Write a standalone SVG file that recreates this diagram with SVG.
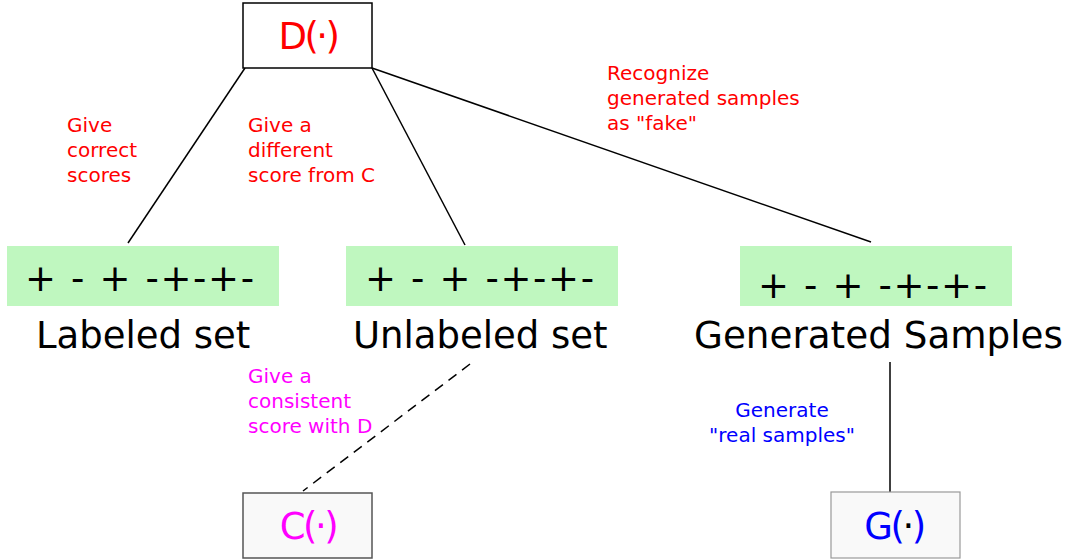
<svg xmlns="http://www.w3.org/2000/svg" width="1069" height="560" viewBox="0 0 1069 560">
<style>
text{font-family:"DejaVu Sans","Verdana",sans-serif}
.lbl{font-size:20px}
.red{fill:#ff0000}
.mag{fill:#ff00ff}
.blue{fill:#0000ff}
.big{font-size:37px;fill:#000}
.seq{font-size:37px;fill:#000}
.green{fill:#bff7bf}
.fn{font-size:37px;text-anchor:middle;letter-spacing:-2.5px}
.ln{stroke:#000;stroke-width:1.5;fill:none}
</style>
<rect width="1069" height="560" fill="#fff"/>
<g id="connectors">
<line class="ln" x1="245" y1="68" x2="128" y2="243"/>
<line class="ln" x1="372" y1="68" x2="465" y2="245"/>
<line class="ln" x1="372" y1="68" x2="871" y2="242"/>
<line class="ln" x1="470" y1="364" x2="303" y2="491" stroke-dasharray="10,7"/>
<line class="ln" x1="890" y1="362" x2="890" y2="492"/>
</g>
<g id="D">
<rect x="243" y="3" width="129" height="65" fill="#fff" stroke="#000" stroke-width="1.5"/>
<text class="fn red" x="308" y="49">D(·)</text>
</g>
<g id="C">
<rect x="243" y="493" width="129" height="65" fill="#f9f9f9" stroke="#555" stroke-width="1.5"/>
<text class="fn mag" x="308" y="539">C(·)</text>
</g>
<g id="G">
<rect x="831" y="492" width="129" height="66" fill="#f9f9f9" stroke="#999" stroke-width="1.2"/>
<text class="fn blue" x="894" y="539">G(<tspan fill="#000">·</tspan>)</text>
</g>
<g id="labeled">
<rect class="green" x="7" y="246" width="272" height="60"/>
<text class="seq" x="25" y="291" textLength="229" lengthAdjust="spacing">+ - + -+-+-</text>
<text class="big" x="36" y="348">Labeled set</text>
</g>
<g id="unlabeled">
<rect class="green" x="346" y="246" width="272" height="60"/>
<text class="seq" x="365" y="291" textLength="229" lengthAdjust="spacing">+ - + -+-+-</text>
<text class="big" x="353" y="348">Unlabeled set</text>
</g>
<g id="generated">
<rect class="green" x="740" y="246" width="272" height="60"/>
<text class="seq" x="758" y="298" textLength="229" lengthAdjust="spacing">+ - + -+-+-</text>
<text class="big" x="694" y="348" textLength="369" lengthAdjust="spacingAndGlyphs">Generated Samples</text>
</g>
<g id="labels">
<text class="lbl red" x="67" y="132">Give<tspan x="67" dy="25">correct</tspan><tspan x="67" dy="25">scores</tspan></text>
<text class="lbl red" x="248" y="132">Give a<tspan x="248" dy="25">different</tspan><tspan x="248" dy="25">score from C</tspan></text>
<text class="lbl red" x="607" y="80">Recognize<tspan x="607" dy="25">generated samples</tspan><tspan x="607" dy="25">as "fake"</tspan></text>
<text class="lbl mag" x="248" y="383">Give a<tspan x="248" dy="25">consistent</tspan><tspan x="248" dy="25">score with D</tspan></text>
<text class="lbl blue" x="782" y="417" text-anchor="middle">Generate<tspan x="782" dy="25">"real samples"</tspan></text>
</g>
</svg>
